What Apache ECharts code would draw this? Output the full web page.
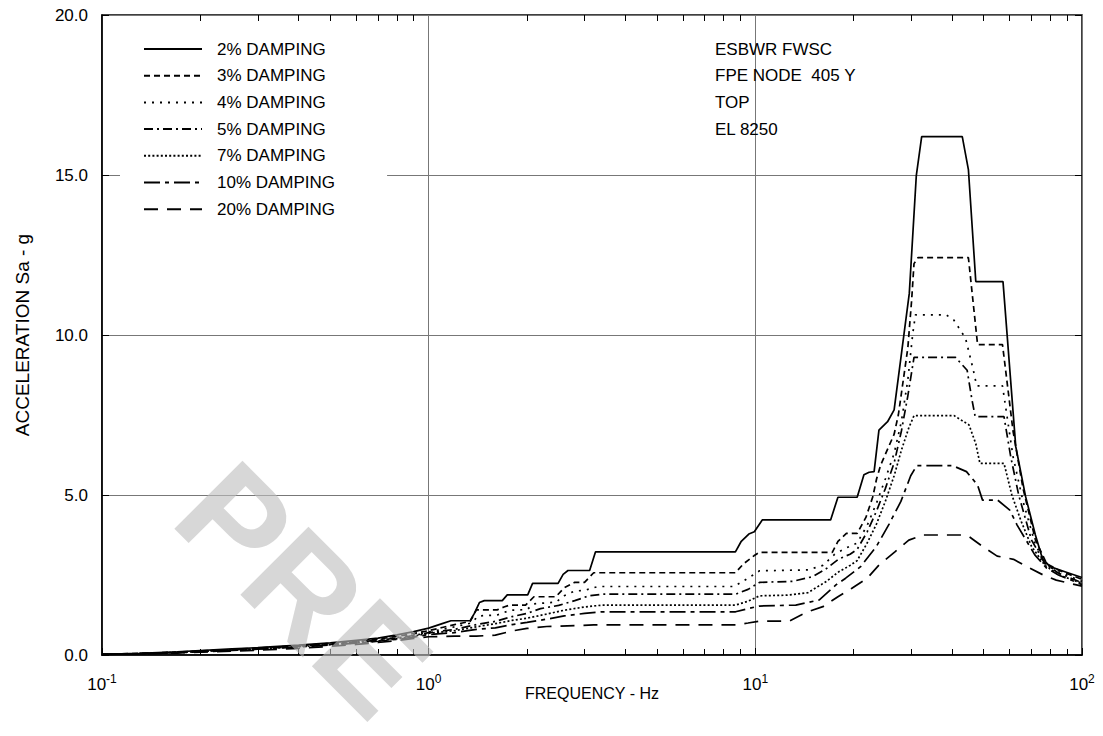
<!DOCTYPE html>
<html><head><meta charset="utf-8">
<script src="https://cdn.jsdelivr.net/npm/echarts@6/dist/echarts.min.js"></script>
<style>html,body{margin:0;padding:0;background:#fff}#c{width:1103px;height:736px}</style>
</head><body><div id="c"></div>
<script>
// ---- data (frequency Hz, acceleration g) ----
const seriesNames = ['2% DAMPING','3% DAMPING','4% DAMPING','5% DAMPING','7% DAMPING','10% DAMPING','20% DAMPING'];
const damping2 = [[0.1,0.02],[0.13,0.05],[0.17,0.1],[0.2,0.14],[0.25,0.19],[0.3,0.23],[0.4,0.31],[0.5,0.38],[0.6,0.46],[0.7,0.53],[0.8,0.63],[0.9,0.73],[1.0,0.84],[1.1,0.98],[1.17,1.07],[1.34,1.07],[1.38,1.3],[1.43,1.64],[1.48,1.70],[1.68,1.70],[1.74,1.88],[2.01,1.88],[2.08,2.24],[2.49,2.24],[2.58,2.52],[2.67,2.64],[3.11,2.64],[3.24,3.22],[8.69,3.22],[9.04,3.54],[9.55,3.78],[9.93,3.85],[10.5,4.22],[17.0,4.22],[17.9,4.93],[20.5,4.93],[21.5,5.63],[22.3,5.71],[23.1,5.73],[23.9,7.03],[25.4,7.29],[26.6,7.66],[28.1,9.53],[29.6,11.3],[31.1,14.98],[32.3,16.2],[43.0,16.2],[44.9,15.17],[47.3,11.67],[57.3,11.67],[62.7,6.51],[67.2,4.95],[72.0,3.75],[75.6,3.02],[79.8,2.76],[90.0,2.58],[100,2.42]];
const damping3 = [[0.1,0.02],[0.13,0.05],[0.17,0.09],[0.2,0.13],[0.25,0.17],[0.3,0.22],[0.4,0.29],[0.5,0.36],[0.6,0.43],[0.7,0.5],[0.8,0.58],[0.9,0.67],[1.0,0.76],[1.1,0.86],[1.2,0.95],[1.34,1.05],[1.40,1.41],[1.62,1.41],[1.70,1.50],[1.77,1.56],[1.98,1.56],[2.10,1.82],[2.45,1.82],[2.60,2.10],[2.80,2.27],[3.00,2.27],[3.20,2.57],[8.69,2.57],[9.20,2.85],[9.90,3.10],[10.3,3.21],[17.2,3.21],[17.9,3.55],[19.0,3.80],[20.5,3.80],[21.8,4.30],[22.9,4.95],[23.5,5.50],[24.2,5.94],[26.6,6.90],[27.4,7.50],[28.2,8.40],[29.3,9.60],[30.1,11.1],[30.6,12.23],[31.5,12.42],[44.9,12.42],[47.9,9.70],[57.1,9.70],[61.5,7.0],[66.0,5.2],[72.0,3.6],[78.0,2.85],[85.0,2.65],[100,2.36]];
const damping4 = [[0.1,0.02],[0.13,0.04],[0.17,0.09],[0.2,0.12],[0.25,0.17],[0.3,0.21],[0.4,0.28],[0.5,0.34],[0.6,0.41],[0.7,0.48],[0.8,0.55],[0.9,0.63],[1.0,0.72],[1.2,0.88],[1.35,1.0],[1.42,1.22],[1.62,1.25],[1.78,1.40],[2.0,1.42],[2.1,1.60],[2.45,1.65],[2.6,1.85],[2.8,2.0],[3.0,2.02],[3.3,2.14],[8.6,2.14],[9.5,2.40],[10.3,2.63],[14.5,2.66],[16.1,2.80],[17.5,3.15],[19.0,3.35],[20.5,3.50],[22.0,4.05],[23.5,4.75],[25.0,5.50],[26.6,6.30],[28.0,7.30],[29.3,8.60],[30.3,10.0],[30.9,10.63],[38.4,10.63],[40.5,10.47],[44.0,9.90],[46.5,8.90],[47.6,8.41],[57.1,8.41],[61.5,6.2],[66.0,4.8],[72.0,3.45],[78.0,2.8],[85.0,2.6],[100,2.3]];
const damping5 = [[0.1,0.02],[0.13,0.04],[0.17,0.08],[0.2,0.12],[0.25,0.16],[0.3,0.2],[0.4,0.27],[0.5,0.33],[0.6,0.4],[0.7,0.46],[0.8,0.53],[0.9,0.61],[1.0,0.70],[1.2,0.80],[1.4,0.95],[1.6,1.05],[1.8,1.2],[2.0,1.3],[2.2,1.45],[2.5,1.55],[2.8,1.7],[3.1,1.85],[3.4,1.90],[8.7,1.90],[9.5,2.05],[10.3,2.27],[13.0,2.30],[15.0,2.45],[16.5,2.70],[18.0,3.0],[19.5,3.15],[20.5,3.30],[22.0,3.85],[23.5,4.50],[25.0,5.20],[26.6,6.0],[28.0,7.0],[29.3,8.1],[30.6,9.3],[41.0,9.3],[44.5,8.9],[46.0,8.0],[47.1,7.45],[57.7,7.45],[60.5,6.2],[64.0,5.0],[70.0,3.6],[77.0,2.85],[85.0,2.55],[100,2.26]];
const damping7 = [[0.1,0.02],[0.13,0.04],[0.17,0.08],[0.2,0.11],[0.25,0.15],[0.3,0.19],[0.4,0.26],[0.5,0.32],[0.6,0.38],[0.7,0.44],[0.8,0.51],[0.9,0.59],[1.0,0.68],[1.2,0.76],[1.4,0.88],[1.6,0.98],[1.8,1.08],[2.0,1.15],[2.3,1.28],[2.6,1.40],[3.0,1.50],[3.4,1.56],[8.7,1.56],[9.5,1.68],[10.3,1.85],[12.5,1.87],[14.5,1.95],[16.5,2.3],[18.0,2.6],[19.5,2.8],[20.5,2.95],[22.0,3.5],[23.5,4.1],[25.0,4.8],[26.6,5.6],[28.0,6.4],[29.5,7.1],[30.6,7.48],[40.6,7.48],[45.1,7.19],[47.3,6.6],[48.7,5.99],[57.7,5.99],[61.0,5.0],[65.0,4.2],[70.0,3.4],[77.0,2.8],[85.0,2.5],[100,2.24]];
const damping10 = [[0.1,0.02],[0.13,0.04],[0.17,0.07],[0.2,0.1],[0.25,0.14],[0.3,0.18],[0.4,0.25],[0.5,0.31],[0.6,0.37],[0.7,0.43],[0.8,0.49],[0.9,0.56],[1.0,0.64],[1.2,0.70],[1.4,0.80],[1.6,0.85],[1.8,0.95],[2.0,1.02],[2.3,1.12],[2.6,1.22],[3.0,1.30],[3.4,1.35],[8.7,1.35],[9.5,1.45],[10.3,1.53],[13.3,1.56],[15.7,1.72],[17.65,2.19],[18.9,2.40],[21.0,2.76],[23.5,3.40],[25.7,4.10],[27.9,4.80],[29.9,5.60],[31.2,5.92],[40.1,5.92],[44.3,5.73],[47.9,5.31],[49.6,4.84],[55.2,4.84],[60.1,4.53],[63.3,4.06],[71.7,3.13],[77.8,2.72],[84.7,2.50],[100,2.20]];
const damping20 = [[0.1,0.02],[0.13,0.03],[0.17,0.06],[0.2,0.09],[0.25,0.12],[0.3,0.15],[0.4,0.21],[0.5,0.27],[0.6,0.33],[0.7,0.39],[0.8,0.45],[0.9,0.52],[1.0,0.57],[1.2,0.59],[1.4,0.59],[1.6,0.62],[1.8,0.75],[2.0,0.83],[2.3,0.89],[2.9,0.92],[3.2,0.94],[8.7,0.94],[9.5,1.0],[10.3,1.06],[12.7,1.06],[14.45,1.35],[16.1,1.51],[17.9,1.82],[19.7,2.08],[22.0,2.40],[23.9,2.81],[26.8,3.23],[29.5,3.59],[32.6,3.75],[43.0,3.75],[45.1,3.70],[49.8,3.38],[55.0,3.09],[61.7,2.99],[68.5,2.74],[76.1,2.50],[83.4,2.34],[100,2.15]];

// ---- ticks / labels ----
const xTickValues = [0.1, 1, 10, 100];
const xTickExponents = ['-1', '0', '1', '2'];
const xMinorTicks = [0.2,0.3,0.4,0.5,0.6,0.7,0.8,0.9,2,3,4,5,6,7,8,9,20,30,40,50,60,70,80,90];
const yTickValues = [0, 5, 10, 15, 20];
const yTickLabels = ['0.0', '5.0', '10.0', '15.0', '20.0'];
const annotation = ['ESBWR FWSC', 'FPE NODE  405 Y', 'TOP', 'EL 8250'];
const xTitle = 'FREQUENCY - Hz';
const yTitle = 'ACCELERATION Sa - g';
const watermark = 'PRE';

const FONT = '"Liberation Sans", Arial, Helvetica, sans-serif';
const allData = [damping2, damping3, damping4, damping5, damping7, damping10, damping20];
const dashTypes = ['solid', [6,4], [2,6], [9,4,2,4], [2,2.2], [16,5,4,5], [14,9]];

const chart = echarts.init(document.getElementById('c'), null, {renderer: 'svg'});

function xLabel(v) {
  const i = xTickValues.findIndex(t => Math.abs(t - v) / t < 1e-6);
  return i >= 0 ? '{b|10}{s|' + xTickExponents[i] + '}' : '';
}
function yLabel(v) {
  const i = yTickValues.indexOf(v);
  return i >= 0 ? yTickLabels[i] : '';
}

const option = {
  animation: false,
  backgroundColor: '#fff',
  textStyle: {fontFamily: FONT},
  grid: {left: 102, right: 21, top: 15, bottom: 81, show: true, borderColor: '#000', borderWidth: 1.5, backgroundColor: 'transparent'},
  legend: {
    show: true, orient: 'vertical', left: 120, top: 25,
    padding: [15.5, 52, 10, 23],
    backgroundColor: '#fff',
    itemWidth: 58, itemHeight: 17, itemGap: 9.7,
    data: seriesNames,
    itemStyle: {opacity: 0, borderWidth: 0},
    textStyle: {fontSize: 17, color: '#000', fontFamily: FONT, padding: [0, 0, 0, 10], lineHeight: 17},
    selectedMode: false
  },
  xAxis: [
    {
      type: 'log', logBase: 10, min: 0.1, max: 100, position: 'bottom',
      name: xTitle, nameLocation: 'middle', nameGap: 30, nameMoveOverlap: false,
      nameTextStyle: {fontSize: 16, color: '#000', fontFamily: FONT},
      axisLine: {show: true, lineStyle: {color: '#000', width: 1.5}},
      axisTick: {show: true, inside: true, length: 7, lineStyle: {color: '#000'}},
      axisLabel: {
        margin: 18, color: '#000', formatter: xLabel,
        rich: {b: {fontSize: 17, fontFamily: FONT, color: '#000'}, s: {fontSize: 12, fontFamily: FONT, color: '#000', padding: [0, 0, 10, 0]}}
      },
      splitLine: {show: true, lineStyle: {color: '#777', width: 1}},
      minorTick: {show: false}
    },
    {
      type: 'log', logBase: 10, min: 0.1, max: 100, position: 'bottom',
      axisLine: {show: false},
      axisTick: {show: true, inside: true, length: 6, customValues: xMinorTicks, lineStyle: {color: '#000'}},
      axisLabel: {show: false}, splitLine: {show: false}
    },
    {
      type: 'log', logBase: 10, min: 0.1, max: 100, position: 'top',
      axisLine: {show: false},
      axisTick: {show: true, inside: true, length: 6, customValues: xMinorTicks, lineStyle: {color: '#000'}},
      axisLabel: {show: false}, splitLine: {show: false}
    }
  ],
  yAxis: [
    {
      type: 'value', min: 0, max: 20, interval: 5, position: 'left',
      name: yTitle, nameLocation: 'middle', nameGap: 70, nameRotate: 90, nameMoveOverlap: false,
      nameTextStyle: {fontSize: 19, color: '#000', fontFamily: FONT},
      axisLine: {show: true, lineStyle: {color: '#000', width: 1.5}},
      axisTick: {show: true, inside: true, length: 7, lineStyle: {color: '#000'}},
      axisLabel: {margin: 14, fontSize: 17, color: '#000', fontFamily: FONT, formatter: yLabel},
      splitLine: {show: true, lineStyle: {color: '#777', width: 1}}
    },
    {
      type: 'value', min: 0, max: 20, interval: 5, position: 'right',
      axisLine: {show: false},
      axisTick: {show: true, inside: true, length: 7, lineStyle: {color: '#000'}},
      axisLabel: {show: false}, splitLine: {show: false}
    }
  ],
  series: seriesNames.map((name, i) => ({
    name: name, type: 'line', xAxisIndex: 0, yAxisIndex: 0,
    data: allData[i], symbol: 'none', showSymbol: false, smooth: false,
    lineStyle: {color: '#000', width: 1.7, type: dashTypes[i]},
    itemStyle: {color: '#000'},
    z: 3
  })),
  graphic: [
    {
      type: 'text', left: 715, top: 36, z: 10,
      style: {text: annotation.join('\n'), fontSize: 17, fontFamily: FONT, lineHeight: 26.6, fill: '#000'}
    },
    {
      type: 'text', x: 202, y: 488, rotation: -Math.PI / 4, z: 100, silent: true,
      style: {text: watermark, fontSize: 140, fontWeight: 'bold', fontFamily: FONT, fill: 'rgba(190,190,190,0.62)', align: 'left', verticalAlign: 'middle'}
    }
  ]
};
chart.setOption(option);
</script></body></html>
